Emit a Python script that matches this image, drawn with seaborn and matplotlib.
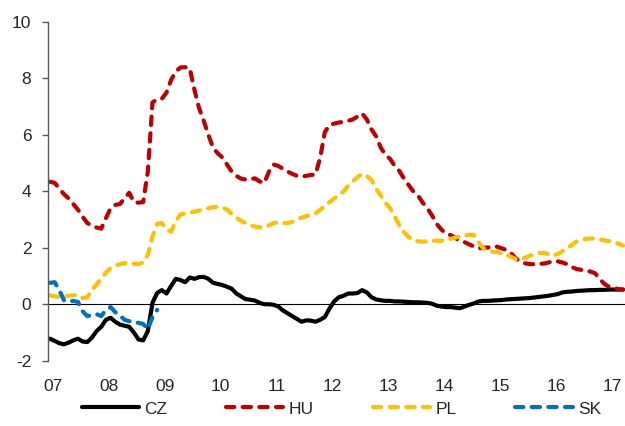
import numpy as np
import pandas as pd
import matplotlib
matplotlib.use('Agg')
import matplotlib.pyplot as plt
import seaborn as sns

# monthly values, Jan 2007 onwards
cz = [-1.22, -1.30, -1.38, -1.42, -1.36, -1.28, -1.22, -1.32, -1.34, -1.18, -0.95, -0.80,
      -0.55, -0.48, -0.62, -0.72, -0.76, -0.80, -1.00, -1.25, -1.28, -0.95, 0.05, 0.40,
      0.50, 0.38, 0.65, 0.90, 0.86, 0.78, 0.95, 0.90, 0.96, 0.97, 0.90, 0.76,
      0.72, 0.68, 0.62, 0.55, 0.38, 0.28, 0.18, 0.16, 0.13, 0.05, 0.00, 0.00,
      -0.02, -0.08, -0.22, -0.32, -0.42, -0.52, -0.62, -0.57, -0.58, -0.62, -0.55, -0.45,
      -0.15, 0.10, 0.25, 0.30, 0.38, 0.38, 0.40, 0.50, 0.42, 0.25, 0.17, 0.14,
      0.12, 0.12, 0.10, 0.10, 0.09, 0.08, 0.07, 0.07, 0.06, 0.05, 0.02, -0.05,
      -0.08, -0.10, -0.10, -0.12, -0.14, -0.08, -0.02, 0.03, 0.10, 0.12, 0.12, 0.13,
      0.14, 0.15, 0.17, 0.18, 0.19, 0.20, 0.21, 0.22, 0.24, 0.26, 0.28, 0.30,
      0.33, 0.36, 0.42, 0.44, 0.45, 0.47, 0.48, 0.49, 0.50, 0.50, 0.51, 0.51,
      0.52, 0.52, 0.52, 0.52]
hu = [4.34, 4.30, 4.10, 3.90, 3.75, 3.55, 3.35, 3.10, 2.88, 2.78, 2.72, 2.68,
      3.05, 3.40, 3.52, 3.55, 3.75, 3.95, 3.62, 3.60, 3.62, 4.70, 7.15, 7.26,
      7.28, 7.50, 7.95, 8.25, 8.39, 8.40, 8.36, 7.60, 6.95, 6.50, 6.00, 5.55,
      5.35, 5.20, 4.95, 4.70, 4.55, 4.45, 4.42, 4.44, 4.46, 4.35, 4.30, 4.70,
      4.95, 4.90, 4.80, 4.70, 4.62, 4.55, 4.52, 4.55, 4.58, 4.60, 5.20, 6.10,
      6.35, 6.40, 6.44, 6.46, 6.50, 6.55, 6.65, 6.76, 6.55, 6.20, 5.95, 5.55,
      5.30, 5.15, 4.90, 4.72, 4.45, 4.22, 4.00, 3.85, 3.60, 3.40, 3.15, 2.85,
      2.65, 2.50, 2.45, 2.35, 2.25, 2.20, 2.12, 2.05, 1.98, 2.00, 2.01, 2.03,
      2.04, 1.98, 1.92, 1.80, 1.62, 1.52, 1.45, 1.42, 1.42, 1.43, 1.44, 1.48,
      1.52, 1.52, 1.48, 1.42, 1.32, 1.25, 1.22, 1.18, 1.16, 1.10, 0.90, 0.72,
      0.62, 0.58, 0.54, 0.52]
pl = [0.32, 0.28, 0.26, 0.28, 0.30, 0.32, 0.32, 0.22, 0.25, 0.50, 0.70, 0.92,
      1.12, 1.28, 1.38, 1.42, 1.46, 1.45, 1.44, 1.42, 1.48, 1.75, 2.40, 2.85,
      2.88, 2.65, 2.58, 2.95, 3.18, 3.22, 3.25, 3.28, 3.32, 3.36, 3.40, 3.44,
      3.45, 3.42, 3.36, 3.20, 3.06, 2.96, 2.88, 2.80, 2.75, 2.73, 2.72, 2.80,
      2.88, 2.90, 2.88, 2.88, 2.92, 3.00, 3.07, 3.12, 3.16, 3.22, 3.35, 3.48,
      3.62, 3.75, 3.88, 4.00, 4.20, 4.36, 4.50, 4.62, 4.55, 4.40, 4.10, 3.85,
      3.60, 3.40, 3.10, 2.80, 2.55, 2.38, 2.28, 2.23, 2.22, 2.23, 2.25, 2.25,
      2.25, 2.28, 2.32, 2.36, 2.40, 2.44, 2.46, 2.46, 2.20, 1.98, 1.90, 1.86,
      1.85, 1.80, 1.75, 1.68, 1.60, 1.58, 1.65, 1.72, 1.78, 1.82, 1.82, 1.78,
      1.72, 1.78, 1.88, 1.98, 2.10, 2.22, 2.28, 2.32, 2.33, 2.33, 2.30, 2.26,
      2.24, 2.22, 2.15, 2.08]
sk = [0.76, 0.78, 0.50, 0.14, 0.10, 0.12, 0.08, -0.25, -0.42, -0.38, -0.35, -0.42,
      -0.20, -0.10, -0.28, -0.40, -0.55, -0.60, -0.63, -0.66, -0.70, -0.88, -0.45, -0.20]

countries = ['CZ', 'HU', 'PL', 'SK']
colors = {'CZ': '#000000', 'HU': '#C00000', 'PL': '#FFC000', 'SK': '#0070C0'}
year_labels = ['07', '08', '09', '10', '11', '12', '13', '14', '15', '16', '17']

frames = []
for name, vals in zip(countries, [cz, hu, pl, sk]):
    m = np.arange(len(vals))
    frames.append(pd.DataFrame({'t': 2007 + m / 12, 'v': vals, 'country': name}))
df = pd.concat(frames, ignore_index=True)

sns.set_style('white')
plt.rcParams['font.family'] = ['Liberation Sans', 'DejaVu Sans']
plt.rcParams['lines.dash_capstyle'] = 'round'

fig = plt.figure(figsize=(6.25, 4.26), dpi=100)
ax = fig.add_axes([0.0768, 0.1533, 0.9232, 0.795])

dash = (2.0, 2.0)
sns.lineplot(data=df, x='t', y='v', hue='country', style='country',
             hue_order=countries, style_order=countries, palette=colors,
             dashes={'CZ': '', 'HU': dash, 'PL': dash, 'SK': dash},
             estimator=None, sort=True, linewidth=3, ax=ax)
for line in ax.lines:
    line.set_solid_capstyle('round')

ax.axhline(0, color='black', lw=0.8, zorder=0)

ax.set_xlim(2006.964, 2017.286)
ax.set_ylim(-2, 10)
ax.set_yticks(np.arange(-2, 11, 2))
ax.set_yticklabels(['-2', '0', '2', '4', '6', '8', '10'])
ax.set_xticks([2007.054 + k for k in range(len(year_labels))])
ax.set_xticklabels(year_labels)
ax.set_xlabel('')
ax.set_ylabel('')

for s in ['top', 'right', 'bottom']:
    ax.spines[s].set_visible(False)
ax.spines['left'].set_color('#595959')
ax.spines['left'].set_linewidth(1.0)
ax.tick_params(axis='y', direction='out', length=4, width=1, color='#595959',
               pad=8, labelsize=12.5, left=True)
ax.tick_params(axis='x', length=0, pad=13, labelsize=12.5)

handles, labels = ax.get_legend_handles_labels()
ax.get_legend().remove()
fig.legend(handles, labels, loc='center', bbox_to_anchor=(0.546, 0.04), ncol=4,
           frameon=False, fontsize=12.5, handlelength=3.3, handletextpad=0.3,
           columnspacing=3.4)

fig.savefig('out.png', dpi=100)
